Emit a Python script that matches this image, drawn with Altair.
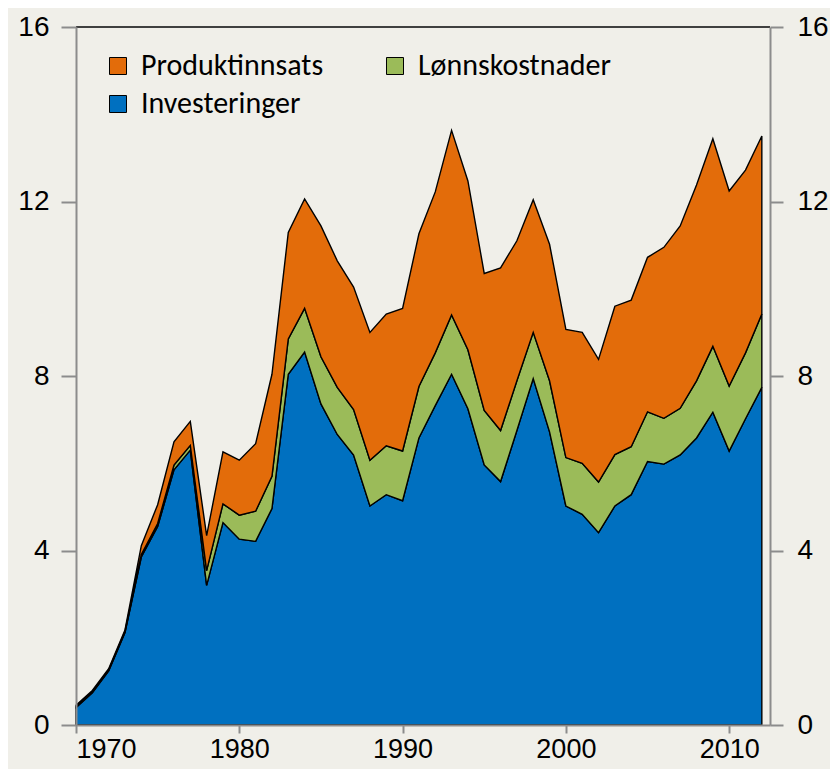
import altair as alt
import pandas as pd

years = list(range(1970, 2013))

investeringer = [0.40, 0.74, 1.24, 2.12, 3.85, 4.55, 5.85, 6.30, 3.20, 4.64,
                 4.26, 4.21, 4.96, 8.04, 8.55, 7.36, 6.66, 6.19, 5.02, 5.28,
                 5.14, 6.58, 7.32, 8.04, 7.25, 5.96, 5.58, 6.75, 7.94, 6.72,
                 5.02, 4.83, 4.41, 5.02, 5.28, 6.04, 5.98, 6.19, 6.58, 7.17,
                 6.28, 7.02, 7.74]
lonnskostnader = [0.02, 0.02, 0.02, 0.03, 0.06, 0.07, 0.11, 0.11, 0.34, 0.43,
                  0.55, 0.69, 0.74, 0.81, 1.00, 1.08, 1.08, 1.04, 1.05, 1.12,
                  1.14, 1.18, 1.21, 1.36, 1.35, 1.25, 1.17, 1.14, 1.06, 1.17,
                  1.11, 1.17, 1.16, 1.18, 1.10, 1.14, 1.05, 1.07, 1.31, 1.51,
                  1.49, 1.51, 1.68]
produktinnsats = [0.03, 0.03, 0.03, 0.03, 0.20, 0.43, 0.53, 0.55, 0.80, 1.19,
                  1.26, 1.55, 2.34, 2.44, 2.51, 3.00, 2.90, 2.81, 2.93, 3.02,
                  3.27, 3.50, 3.69, 4.23, 3.87, 3.14, 3.73, 3.21, 3.04, 3.13,
                  2.94, 3.00, 2.81, 3.40, 3.36, 3.54, 3.92, 4.18, 4.49, 4.76,
                  4.47, 4.19, 4.08]

series_names = ["Produktinnsats", "Lønnskostnader", "Investeringer"]
series_colors = ["#E36C0A", "#9BBB59", "#0070C0"]
stack_order = {"Investeringer": 0, "Lønnskostnader": 1, "Produktinnsats": 2}
x_ticks = [1970, 1980, 1990, 2000, 2010]
y_ticks = [0, 4, 8, 12, 16]

rows = []
for name, vals in [("Investeringer", investeringer),
                   ("Lønnskostnader", lonnskostnader),
                   ("Produktinnsats", produktinnsats)]:
    for yr, v in zip(years, vals):
        rows.append({"year": yr, "series": name, "value": v, "ord": stack_order[name]})
df = pd.DataFrame(rows)

axis_col = "#8c8c8c"
yscale = alt.Scale(domain=[0, 16], nice=False, zero=True)
xscale = alt.Scale(domain=[1970, 2012.5], nice=False, zero=False)

common_axis = dict(domainColor=axis_col, domainWidth=2, tickColor=axis_col, tickWidth=2,
                   labelFont="Liberation Sans", labelColor="black",
                   grid=False, title=None, zindex=1)

area = alt.Chart(df).mark_area(stroke="black", strokeWidth=1.4, strokeJoin="miter").encode(
    x=alt.X("year:Q", scale=xscale,
            axis=alt.Axis(values=x_ticks, format="d", tickSize=8, labelPadding=3,
                          labelFontSize=27, **common_axis)),
    y=alt.Y("value:Q", stack="zero", scale=yscale,
            axis=alt.Axis(values=y_ticks, orient="left", tickSize=15, labelPadding=12,
                          labelFontSize=28, **common_axis)),
    color=alt.Color("series:N",
                    scale=alt.Scale(domain=series_names, range=series_colors),
                    legend=alt.Legend(title=None, orient="none", legendX=27, legendY=24,
                                      columns=2, direction="horizontal",
                                      symbolType="square", symbolSize=289,
                                      symbolStrokeColor="black", symbolStrokeWidth=1,
                                      labelFont="Carlito, Lato", labelFontSize=30,
                                      labelColor="black",
                                      labelOffset=8, columnPadding=56, rowPadding=8,
                                      labelLimit=400)),
    order=alt.Order("ord:Q", sort="ascending"),
)

top_rule = alt.Chart(df).mark_rule(color="#404040", strokeWidth=1.5).encode(
    y=alt.YDatum(16, scale=yscale, axis=None)
)

right_axis = alt.Chart(df).mark_rule(opacity=0).encode(
    y=alt.Y("value:Q", scale=yscale,
            axis=alt.Axis(values=y_ticks, orient="right", tickSize=13, labelPadding=14,
                          labelFontSize=28, **common_axis))
)

chart = alt.layer(area, top_rule, right_axis).resolve_axis(y="independent").properties(
    width=694, height=698,
    padding={"left": 68, "top": 19, "right": 60, "bottom": 44},
    autosize=alt.AutoSizeParams(type="none"),
    background="#F0EFE9",
).configure_view(stroke=None)

chart.save("out.html", embed_options={"renderer": "svg", "actions": False})
